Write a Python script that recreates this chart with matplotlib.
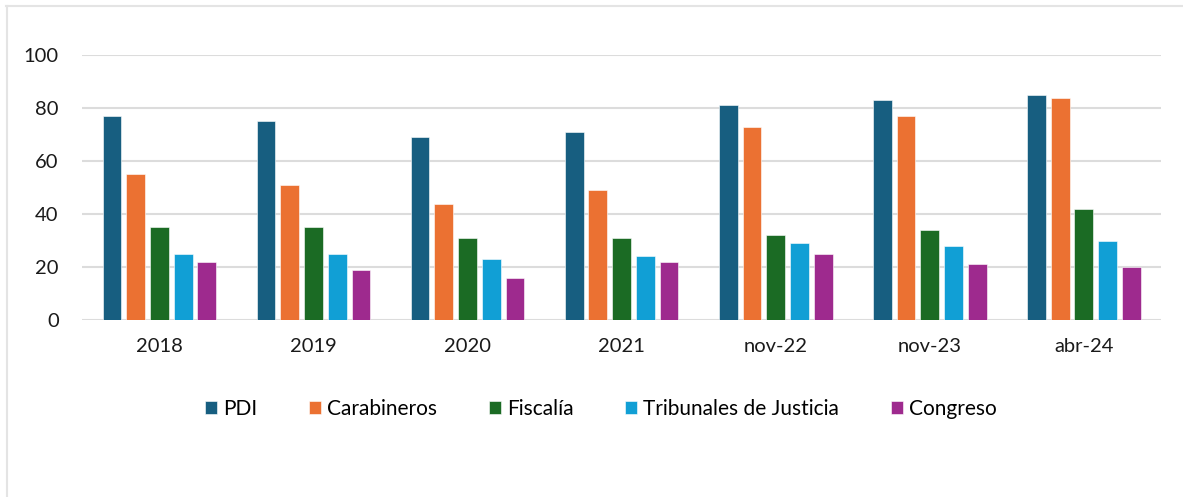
import matplotlib.pyplot as plt
from matplotlib.lines import Line2D
import numpy as np

plt.rcParams['font.family'] = ['Lato', 'DejaVu Sans']

periods = ["2018", "2019", "2020", "2021", "nov-22", "nov-23", "abr-24"]
pdi = [77, 75, 69, 71, 81, 83, 85]
carabineros = [55, 51, 44, 49, 73, 77, 84]
fiscalia = [35, 35, 31, 31, 32, 34, 42]
tribunales = [25, 25, 23, 24, 29, 28, 30]
congreso = [22, 19, 16, 22, 25, 21, 20]

series = [("PDI", pdi, "#175e80"),
          ("Carabineros", carabineros, "#eb7132"),
          ("Fiscalía", fiscalia, "#1b6b24"),
          ("Tribunales de Justicia", tribunales, "#119fd5"),
          ("Congreso", congreso, "#9e2a8e")]

fig = plt.figure(figsize=(11.83, 4.97), dpi=100)
ax = fig.add_axes([0.0696, 0.356, 0.9117, 0.533])

x = np.arange(len(periods))
step = 0.154
width = 0.122
for i, (name, vals, col) in enumerate(series):
    ax.bar(x + (i - 2) * step, vals, width, color=col, label=name,
           edgecolor="white", linewidth=0.4, zorder=3)

ax.set_xlim(-0.5, len(periods) - 0.5)
ax.set_ylim(0, 100)
ax.set_yticks([0, 20, 40, 60, 80, 100])
ax.set_xticks(x)
ax.set_xticklabels(periods)
ax.tick_params(axis='both', length=0, labelsize=14.5, colors="#1a1a1a")
ax.tick_params(axis='y', pad=17)
ax.tick_params(axis='x', pad=13)
ax.grid(axis='y', color="#dcdcdc", linewidth=1.5, zorder=0)
ax.set_axisbelow(True)
for s in ax.spines.values():
    s.set_visible(False)

fig.legend(loc='center', bbox_to_anchor=(0.508, 0.178), ncol=5, frameon=False,
           fontsize=15, handlelength=0.55, handleheight=0.6,
           handletextpad=0.3, columnspacing=2.5)

# light frame lines at top and left
fig.add_artist(Line2D([0.005, 1.0], [0.988, 0.988], transform=fig.transFigure,
                      color="#e4e4e4", linewidth=1.5))
fig.add_artist(Line2D([0.0055, 0.0055], [0.0, 0.988], transform=fig.transFigure,
                      color="#e4e4e4", linewidth=1.5))

fig.savefig("out.png", dpi=100, facecolor="white")
